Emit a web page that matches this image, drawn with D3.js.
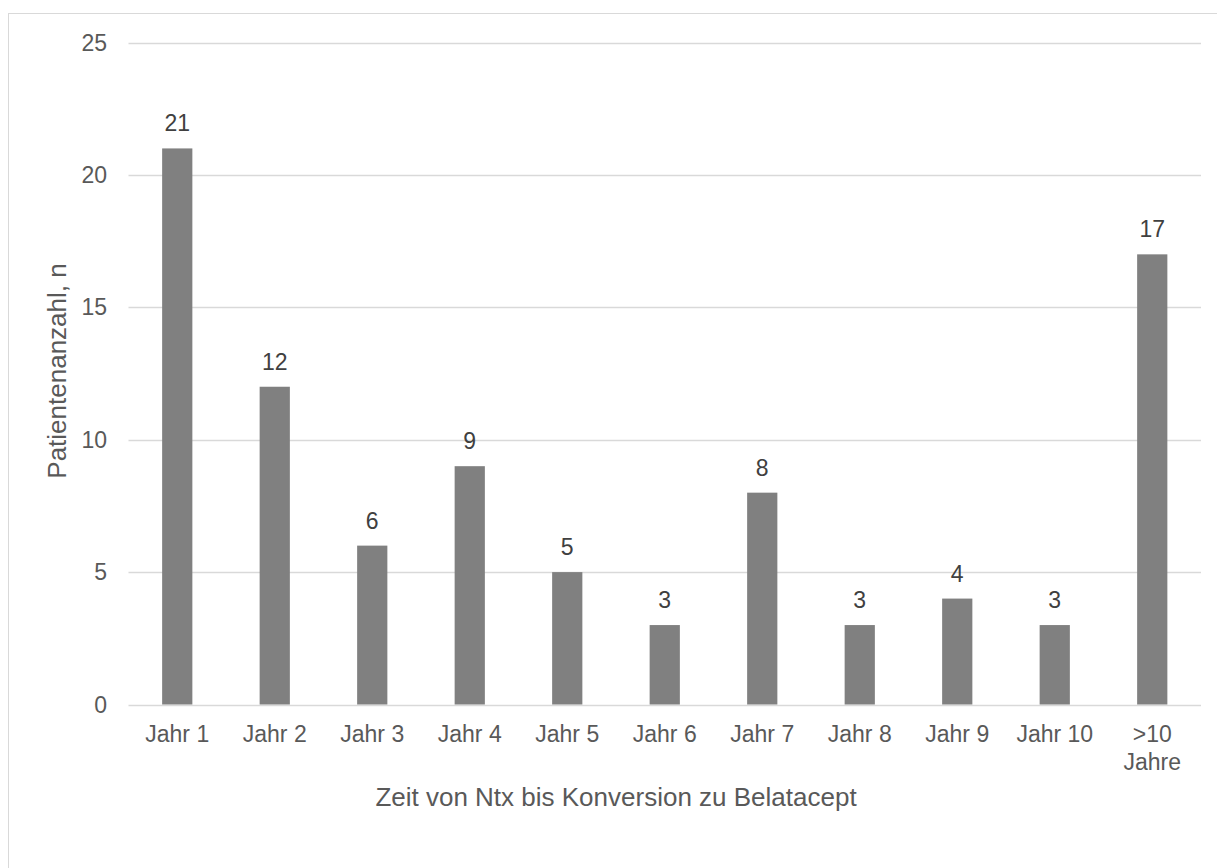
<!DOCTYPE html>
<html>
<head>
<meta charset="utf-8">
<script src="https://cdnjs.cloudflare.com/ajax/libs/d3/7.8.5/d3.min.js"></script>
<style>
  html, body { margin: 0; padding: 0; background: #fff; }
  svg { display: block; font-family: "Liberation Sans", Arial, sans-serif; }
</style>
</head>
<body>
<div id="chart"></div>
<script>
// data
var categories = ["Jahr 1", "Jahr 2", "Jahr 3", "Jahr 4", "Jahr 5", "Jahr 6",
                  "Jahr 7", "Jahr 8", "Jahr 9", "Jahr 10", ">10 Jahre"];
var patients = [21, 12, 6, 9, 5, 3, 8, 3, 4, 3, 17];
var yTicks = [0, 5, 10, 15, 20, 25];

var width = 1217, height = 868;

var svg = d3.select("#chart").append("svg")
    .attr("width", width)
    .attr("height", height);

// chart area outline (runs off the right/bottom edge like the source)
svg.append("rect")
    .attr("x", 8.5).attr("y", 13.5)
    .attr("width", 1400).attr("height", 1000)
    .attr("fill", "none")
    .attr("stroke", "#d9d9d9")
    .attr("stroke-width", 1);

var x = d3.scaleBand()
    .domain(categories)
    .range([128.5, 1201])
    .paddingInner(0.69)
    .paddingOuter(0.345);

var y = d3.scaleLinear()
    .domain([0, 25])
    .range([704.5, 42.5]);

// gridlines
svg.append("g")
    .selectAll("line")
    .data(yTicks)
    .enter().append("line")
      .attr("x1", 128.5)
      .attr("x2", 1201)
      .attr("y1", function(d) { return Math.round(y(d)) + 0.5; })
      .attr("y2", function(d) { return Math.round(y(d)) + 0.5; })
      .attr("stroke", "#d9d9d9")
      .attr("stroke-width", 1.5);

// y tick labels
svg.append("g")
    .attr("font-size", 23)
    .attr("fill", "#595959")
    .attr("text-anchor", "end")
  .selectAll("text")
    .data(yTicks)
    .enter().append("text")
      .attr("x", 107)
      .attr("y", function(d) { return y(d); })
      .attr("dy", "0.35em")
      .text(function(d) { return d; });

// bars
svg.append("g")
    .selectAll("rect")
    .data(patients)
    .enter().append("rect")
      .attr("x", function(d, i) { return x(categories[i]); })
      .attr("y", function(d) { return y(d); })
      .attr("width", x.bandwidth())
      .attr("height", function(d) { return y(0) - y(d); })
      .attr("fill", "#808080");

// value labels
svg.append("g")
    .attr("font-size", 23)
    .attr("fill", "#404040")
    .attr("text-anchor", "middle")
  .selectAll("text")
    .data(patients)
    .enter().append("text")
      .attr("x", function(d, i) { return x(categories[i]) + x.bandwidth() / 2; })
      .attr("y", function(d) { return y(d) - 17; })
      .text(function(d) { return d; });

// x tick labels (">10 Jahre" wraps onto two lines)
var xl = svg.append("g")
    .attr("font-size", 23)
    .attr("fill", "#595959")
    .attr("text-anchor", "middle")
  .selectAll("text")
    .data(categories)
    .enter().append("text")
      .attr("x", function(d) { return x(d) + x.bandwidth() / 2; })
      .attr("y", 742);

xl.each(function(d) {
  var t = d3.select(this);
  var parts = d.indexOf(">") === 0 ? d.split(" ") : [d];
  parts.forEach(function(p, i) {
    t.append("tspan")
      .attr("x", x(d) + x.bandwidth() / 2)
      .attr("dy", i === 0 ? 0 : 27.5)
      .text(p);
  });
});

// axis titles
svg.append("text")
    .attr("x", 616)
    .attr("y", 806)
    .attr("text-anchor", "middle")
    .attr("font-size", 26)
    .attr("fill", "#595959")
    .text("Zeit von Ntx bis Konversion zu Belatacept");

svg.append("text")
    .attr("transform", "translate(66,371) rotate(-90)")
    .attr("text-anchor", "middle")
    .attr("font-size", 26)
    .attr("fill", "#595959")
    .text("Patientenanzahl, n");
</script>
</body>
</html>
